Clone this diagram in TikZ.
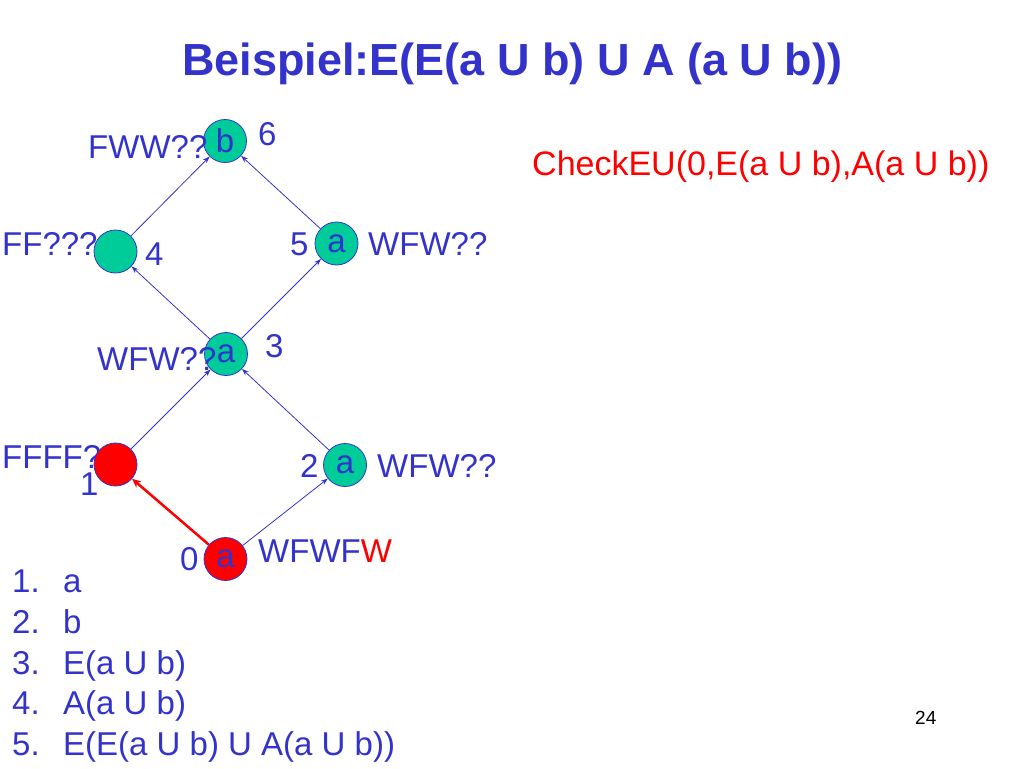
\documentclass[tikz,border=0pt]{standalone}
\usepackage{fontspec}
\setmainfont{Liberation Sans}
\usetikzlibrary{arrows.meta}
\definecolor{tblue}{HTML}{3333CC}
\definecolor{tteal}{HTML}{00CC99}
\definecolor{tred}{HTML}{FF0000}
\tikzset{
  st/.style={circle,draw=tblue,line width=0.8pt,minimum size=43pt,inner sep=0pt,text=tblue,font=\fontsize{33}{40}\selectfont},
  okst/.style={st,fill=tteal},
  badst/.style={st,fill=tred},
  lbl/.style={inner sep=0pt,text=tblue,font=\fontsize{33}{40}\selectfont},
  edge/.style={draw=tblue,line width=0.8pt,-{Stealth[length=7pt,width=5pt]}},
  redge/.style={draw=tred,line width=2.5pt,-{Stealth[length=9pt,width=8pt]}},
}
\begin{document}
\begin{tikzpicture}[x=1pt,y=-1pt]
\useasboundingbox (0,0) rectangle (1024,768);
% title
\node[inner sep=0pt,anchor=base west,text=tblue,font=\fontsize{45}{54}\selectfont\bfseries] (title) at (182,75) {Beispiel:E(E(a U b) U A (a U b))};
% labels under nodes
\node[lbl,anchor=base west] (l1) at (2,468) {FFFF?};
\node[lbl,anchor=base west] (l4) at (2,255) {FF???};
% states
\node[okst] (n6) at (225,141) {b};
\node[okst] (n4) at (115.5,251.5) {};
\node[okst] (n5) at (336.5,243.5) {a};
\node[okst] (n3) at (226,354) {a};
\node[badst] (n1) at (115.5,464.5) {};
\node[okst] (n2) at (345,465) {a};
\node[badst] (n0) at (225.5,559) {a};
% edges
\draw[redge] (n0) -- (n1);
\draw[edge] (n0) -- (n2);
\draw[edge] (n1) -- (n3);
\draw[edge] (n2) -- (n3);
\draw[edge] (n3) -- (n4);
\draw[edge] (n3) -- (n5);
\draw[edge] (n4) -- (n6);
\draw[edge] (n5) -- (n6);
% labels
\node[lbl,anchor=base west] (l6) at (88,158) {FWW??};
\node[lbl,anchor=base west] (i6) at (258,145) {6};
\node[lbl,anchor=base west] (i4) at (145,265) {4};
\node[lbl,anchor=base west] (i5) at (290,255) {5};
\node[lbl,anchor=base west] (l5) at (368,255) {WFW??};
\node[lbl,anchor=base west] (l3) at (97,370) {WFW??};
\node[lbl,anchor=base west] (i3) at (265,357) {3};
\node[lbl,anchor=base west] (i1) at (80,495) {1};
\node[lbl,anchor=base west] (i2) at (300,477) {2};
\node[lbl,anchor=base west] (l2) at (377,477) {WFW??};
\node[lbl,anchor=base west] (i0) at (180,570) {0};
\node[lbl,anchor=base west] (l0) at (258,562) {WFWF\textcolor{tred}{W}};
% check
\node[inner sep=0pt,anchor=base west,text=tred,font=\fontsize{34}{40}\selectfont] (chk) at (532,175) {CheckEU(0,E(a U b),A(a U b))};
% list
\foreach \num/\txt/\yy in {1./a/592, 2./b/633, 3./E(a U b)/674, 4./A(a U b)/714, 5./E(E(a U b) U A(a U b))/755}{
  \node[lbl,anchor=base west] (ln\yy) at (12,\yy) {\num};
  \node[lbl,anchor=base west] (lt\yy) at (63,\yy) {\txt};
}
% page number
\node[inner sep=0pt,anchor=base west,font=\fontsize{19}{23}\selectfont] (pg) at (915,724) {24};
\end{tikzpicture}
\end{document}
